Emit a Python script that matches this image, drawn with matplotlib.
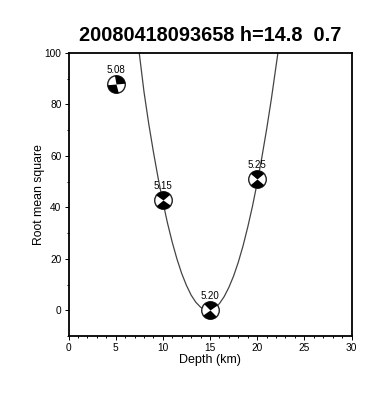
import numpy as np
import matplotlib
matplotlib.use("Agg")
import matplotlib.pyplot as plt
from matplotlib.path import Path
from matplotlib.ticker import MultipleLocator

plt.rcParams['font.family'] = ['Liberation Sans', 'DejaVu Sans']

title = "20080418093658 h=14.8  0.7"
curve_depth = [7.5, 8, 8.5, 9, 9.5, 10, 10.5, 11, 11.5, 12, 12.5, 13, 13.5, 14, 14.5, 15, 15.5,
               16, 16.5, 17, 17.5, 18, 18.5, 19, 19.5, 20, 20.5, 21, 21.5, 22, 22.2]
curve_rms = [100, 85, 72.6, 61.6, 51.4, 42.2, 33.8, 26.4, 19.9, 14.3, 9.7, 5.9, 3.1, 1.2, 0.2, 0.1, 0.9,
             2.6, 5.3, 8.9, 13.3, 18.7, 25, 32.3, 40.4, 49.5, 59.5, 70.3, 82, 94.9, 100]
event_depth = [5, 10, 15, 20]
event_rms = [88, 43, 0, 51]
event_labels = ["5.08", "5.15", "5.20", "5.25"]
upper_wedge = [(5, 100), (40, 145), (35, 135), (40, 140)]
lower_wedge = [(185, 285), (220, 325), (215, 315), (220, 320)]


def sector_path(a0, a1):
    t = np.radians(np.linspace(a0, a1, 30))
    v = np.vstack([[0, 0], np.c_[np.cos(t), np.sin(t)], [0, 0]])
    return Path(v, closed=True)


fig = plt.figure(figsize=(3.85, 3.96), dpi=100)
ax = fig.add_axes([68.5 / 385, 1 - 336 / 396, 283 / 385, 283 / 396])
ax.plot(curve_depth, curve_rms, color='#444444', lw=0.9, zorder=2)

for d, r, lab, up, low in zip(event_depth, event_rms, event_labels, upper_wedge, lower_wedge):
    ax.scatter([d], [r], s=160, c='white', edgecolors='#222222', linewidths=1.0, zorder=3)
    for w in (up, low):
        ax.scatter([d], [r], s=160, marker=sector_path(*w), c='black', linewidths=0, zorder=4)
    ax.annotate(lab, (d, r), xytext=(0, 6.5), textcoords='offset points', ha='center', va='bottom',
                fontsize=7, zorder=5)

ax.set_xlim(0, 30)
ax.set_ylim(-10, 100)
ax.xaxis.set_major_locator(MultipleLocator(5))
ax.xaxis.set_minor_locator(MultipleLocator(1))
ax.yaxis.set_major_locator(MultipleLocator(20))
ax.yaxis.set_minor_locator(MultipleLocator(10))
ax.tick_params(which='major', length=3, width=0.7, labelsize=7.3, pad=2)
ax.tick_params(which='minor', length=1.5, width=0.7)
for s in ax.spines.values():
    s.set_linewidth(1.3)
ax.set_xlabel("Depth (km)", fontsize=9, labelpad=0.5)
ax.set_ylabel("Root mean square", fontsize=8.8, labelpad=0)
ax.set_title(title, fontsize=14.3, fontweight='bold', pad=8.5)
fig.savefig("out.png", dpi=100)
